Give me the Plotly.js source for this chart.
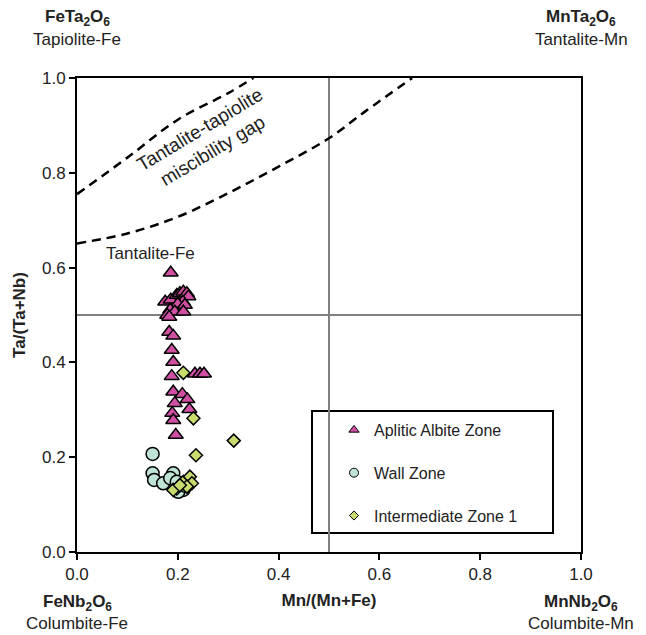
<!DOCTYPE html>
<html><head><meta charset="utf-8">
<script src="https://cdn.plot.ly/plotly-3.0.1.min.js"></script>
<style>html,body{margin:0;padding:0;background:#fff}</style>
</head><body>
<div id="chart" style="width:646px;height:635px"></div>
<script>
// Aplitic Albite Zone (triangles)
const aplitic_x = [0.186,0.175,0.186,0.198,0.204,0.211,0.218,0.221,0.210,0.200,0.214,0.185,0.194,0.211,0.179,0.183,
  0.183,0.191,0.188,0.191,0.188,0.234,0.244,0.252,0.191,0.209,0.219,0.194,0.223,0.189,0.191,0.196];
const aplitic_y = [0.589,0.528,0.532,0.542,0.546,0.549,0.546,0.539,0.528,0.523,0.521,0.511,0.507,0.507,0.500,0.496,
  0.464,0.456,0.426,0.401,0.371,0.376,0.376,0.376,0.338,0.333,0.322,0.314,0.301,0.293,0.278,0.247];
// Wall Zone (circles)
const wall_x = [0.150,0.150,0.153,0.171,0.191,0.185,0.198,0.204,0.211,0.201,0.216];
const wall_y = [0.207,0.166,0.152,0.145,0.166,0.156,0.148,0.134,0.131,0.127,0.139];
// Intermediate Zone 1 (diamonds)
const inter_x = [0.211,0.231,0.311,0.236,0.211,0.224,0.228,0.198,0.191,0.218,0.204];
const inter_y = [0.378,0.282,0.235,0.204,0.148,0.159,0.145,0.134,0.131,0.138,0.141];
// Miscibility gap boundaries (dashed)
const gapUpper_x = [0, 0.10, 0.20, 0.30, 0.35];
const gapUpper_y = [0.755, 0.832, 0.912, 0.968, 1.0];
const gapLower_x = [0, 0.10, 0.20, 0.30, 0.40, 0.50, 0.57, 0.665];
const gapLower_y = [0.651, 0.672, 0.707, 0.757, 0.813, 0.873, 0.928, 1.0];
const seriesNames = ['Aplitic Albite Zone', 'Wall Zone', 'Intermediate Zone 1'];
const tickVals = [0, 0.2, 0.4, 0.6, 0.8, 1.0];

const FONT = 'Liberation Sans, Arial, sans-serif';
const TXT = '#222222';
function f(size){ return {family:FONT, size:size, color:TXT}; }
const dashLine = {color:'black', width:2.5, dash:'9px,6px', shape:'spline'};
const triM = {symbol:'triangle-up', size:13, color:'#CF4FA3', line:{color:'black', width:1.5}};
const cirM = {symbol:'circle', size:13, color:'#BFE3D4', line:{color:'black', width:1.5}};
const diaM = {symbol:'diamond', size:10, color:'#C8DC6E', line:{color:'black', width:1.5}};

const traces = [
  {x:gapUpper_x, y:gapUpper_y, mode:'lines', line:dashLine, showlegend:false, hoverinfo:'skip'},
  {x:gapLower_x, y:gapLower_y, mode:'lines', line:dashLine, showlegend:false, hoverinfo:'skip'},
  {x:aplitic_x, y:aplitic_y, mode:'markers', marker:triM, name:seriesNames[0], showlegend:false, cliponaxis:false},
  {x:wall_x, y:wall_y, mode:'markers', marker:cirM, name:seriesNames[1], showlegend:false, cliponaxis:false},
  {x:inter_x, y:inter_y, mode:'markers', marker:diaM, name:seriesNames[2], showlegend:false, cliponaxis:false},
  // legend entries
  {x:[null], y:[null], mode:'markers', name:seriesNames[0], legendgroup:'a', marker:Object.assign({}, triM, {size:9, line:{color:'black',width:1}})},
  {x:[null], y:[null], mode:'markers', name:seriesNames[1], legendgroup:'b', marker:Object.assign({}, cirM, {size:9, line:{color:'black',width:1}})},
  {x:[null], y:[null], mode:'markers', name:seriesNames[2], legendgroup:'c', marker:Object.assign({}, diaM, {size:7, line:{color:'black',width:1}})}
];

function pyToPaper(py){ return (552 - py) / 474; }
function pxToPaper(px){ return (px - 77) / 504; }

function corner(x, py, text){
  return {xref:'x', yref:'paper', x:x, y:pyToPaper(py), xanchor:'center', yanchor:'middle',
          text:text, showarrow:false, font:f(17)};
}
const annotations = [
  corner(0, 18, '<b>FeTa<sub>2</sub>O<sub>6</sub></b>'),
  corner(0, 39, 'Tapiolite-Fe'),
  corner(1, 18, '<b>MnTa<sub>2</sub>O<sub>6</sub></b>'),
  corner(1, 39, 'Tantalite-Mn'),
  corner(0, 603, '<b>FeNb<sub>2</sub>O<sub>6</sub></b>'),
  corner(0, 623, 'Columbite-Fe'),
  corner(1, 603, '<b>MnNb<sub>2</sub>O<sub>6</sub></b>'),
  corner(1, 623, 'Columbite-Mn'),
  {xref:'x', yref:'y', x:0.145, y:0.629, xanchor:'center', yanchor:'middle', text:'Tantalite-Fe', showarrow:false, font:f(17)},
  {xref:'x', yref:'y', x:0.257, y:0.869, xanchor:'center', yanchor:'middle', text:'Tantalite-tapiolite<br>miscibility gap',
   showarrow:false, textangle:-31, font:f(19)}
];

const shapes = [
  {type:'line', xref:'x', yref:'y', x0:0.5, x1:0.5, y0:0, y1:1, line:{color:'#808080', width:2}, layer:'below'},
  {type:'line', xref:'x', yref:'y', x0:0, x1:1, y0:0.5, y1:0.5, line:{color:'#808080', width:2}, layer:'below'},
  {type:'rect', xref:'paper', yref:'paper', x0:pxToPaper(312), x1:pxToPaper(553), y0:pyToPaper(533), y1:pyToPaper(411),
   line:{color:'black', width:2}, fillcolor:'white', layer:'below'}
];

const axisCommon = {
  range:[0,1], tickvals:tickVals, tickformat:'.1f', showgrid:false, zeroline:false,
  showline:true, linecolor:'black', linewidth:2, mirror:true,
  ticks:'outside', ticklen:6, tickwidth:2, tickcolor:'black',
  tickfont:f(17)
};

const layout = {
  width:646, height:635,
  margin:{l:77, r:65, t:78, b:83},
  paper_bgcolor:'white', plot_bgcolor:'white',
  font:f(17),
  showlegend:true,
  legend:{x:pxToPaper(334), y:pyToPaper(413), xanchor:'left', yanchor:'top',
          bgcolor:'rgba(0,0,0,0)', borderwidth:0, tracegroupgap:19, font:f(16)},
  xaxis:Object.assign({}, axisCommon, {title:{text:'<b>Mn/(Mn+Fe)</b>', font:f(17), standoff:11}}),
  yaxis:Object.assign({}, axisCommon, {title:{text:'<b>Ta/(Ta+Nb)</b>', font:f(17), standoff:12}}),
  annotations:annotations,
  shapes:shapes
};

Plotly.newPlot('chart', traces, layout, {displayModeBar:false, staticPlot:true});
</script>
</body></html>
